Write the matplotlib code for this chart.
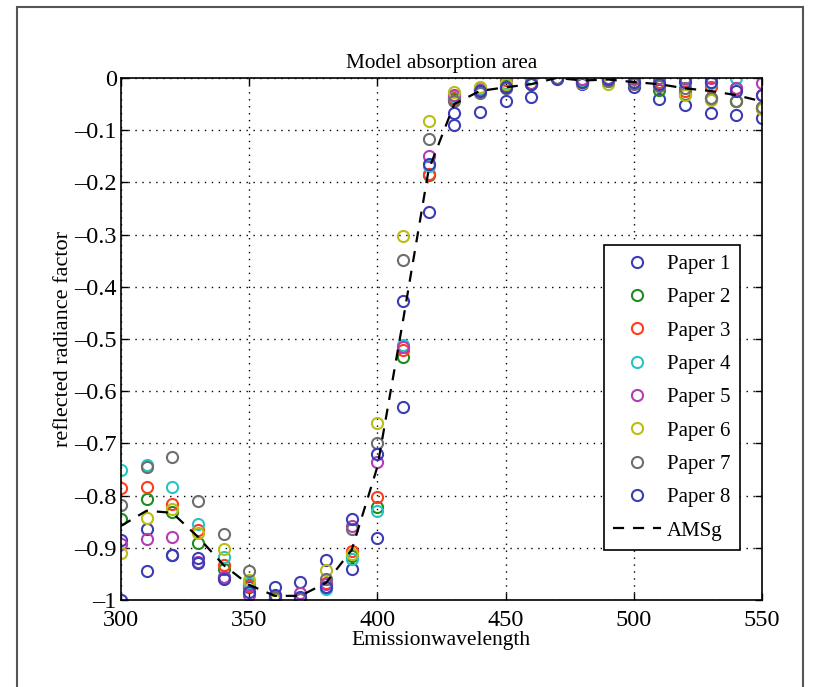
import numpy as np
import matplotlib
matplotlib.use("Agg")
from matplotlib import pyplot as plt
from matplotlib.patches import Rectangle

plt.rcParams['font.family'] = ['Liberation Serif', 'DejaVu Serif']
plt.rcParams['axes.unicode_minus'] = False

wavelength = [300, 310, 320, 330, 340, 350, 360, 370, 380, 390, 400, 410, 420,
              430, 440, 450, 460, 470, 480, 490, 500, 510, 520, 530, 540, 550]

paper1 = [-0.885, -0.864, -0.914, -0.920, -0.955, -0.976, -0.975, -0.965, -0.923, -0.941, -0.882, -0.630, -0.256,
          -0.091, -0.066, -0.045, -0.036, 0.000, -0.011, 0.000, -0.017, -0.041, -0.052, -0.068, -0.071, -0.077]
paper2 = [-0.845, -0.807, -0.831, -0.890, -0.940, -0.971, -0.998, -0.998, -0.975, -0.916, -0.821, -0.534, -0.186,
          -0.040, -0.020, -0.013, -0.012, 0.000, -0.008, -0.005, -0.010, -0.023, -0.030, -0.039, -0.045, -0.058]
paper3 = [-0.786, -0.784, -0.816, -0.866, -0.933, -0.974, -0.995, -0.997, -0.968, -0.907, -0.803, -0.521, -0.184,
          -0.038, -0.022, -0.004, -0.010, 0.000, -0.006, -0.004, -0.002, -0.008, -0.026, -0.017, -0.020, -0.033]
paper4 = [-0.751, -0.742, -0.783, -0.854, -0.917, -0.967, -0.993, -0.996, -0.978, -0.921, -0.829, -0.511, -0.168,
          -0.034, -0.022, -0.010, -0.001, 0.000, -0.005, -0.004, -0.008, -0.012, -0.002, -0.010, -0.001, -0.058]
paper5 = [-0.893, -0.884, -0.879, -0.927, -0.955, -0.990, -0.996, -0.987, -0.970, -0.858, -0.735, -0.515, -0.149,
          -0.032, -0.024, -0.020, -0.010, 0.000, -0.003, 0.000, 0.000, 0.000, 0.000, 0.000, -0.020, -0.010]
paper6 = [-0.909, -0.842, -0.826, -0.871, -0.902, -0.962, -1.000, -0.998, -0.943, -0.912, -0.660, -0.302, -0.082,
          -0.027, -0.017, -0.012, -0.012, 0.000, -0.010, -0.012, -0.008, -0.015, -0.032, -0.042, -0.045, -0.060]
paper7 = [-0.818, -0.746, -0.727, -0.810, -0.874, -0.944, -0.995, -0.998, -0.960, -0.864, -0.699, -0.349, -0.117,
          -0.045, -0.028, -0.019, -0.011, 0.000, -0.008, -0.006, -0.012, -0.015, -0.020, -0.039, -0.045, -0.055]
paper8 = [-0.999, -0.944, -0.914, -0.930, -0.960, -0.985, -0.990, -0.994, -0.975, -0.845, -0.720, -0.428, -0.165,
          -0.068, -0.025, -0.018, -0.012, -0.002, -0.007, -0.003, -0.007, -0.012, -0.007, -0.007, -0.025, -0.033]
amsg = [-0.858, -0.829, -0.833, -0.879, -0.933, -0.971, -0.992, -0.992, -0.967, -0.904, -0.745, -0.465, -0.176,
        -0.050, -0.025, -0.018, -0.012, 0.000, -0.005, -0.003, -0.008, -0.012, -0.020, -0.025, -0.033, -0.045]

papers = [paper1, paper2, paper3, paper4, paper5, paper6, paper7, paper8]
names = ['Paper 1', 'Paper 2', 'Paper 3', 'Paper 4', 'Paper 5', 'Paper 6', 'Paper 7', 'Paper 8']
colors = ['#3c3cb4', '#1e8c1e', '#ff3c1e', '#28c3c3', '#b43cb4', '#b9be14', '#6e6e6e', '#3c3cb4']
yticks = [-1, -0.9, -0.8, -0.7, -0.6, -0.5, -0.4, -0.3, -0.2, -0.1, 0]
ytick_labels = ['\u20131', '\u20130.9', '\u20130.8', '\u20130.7', '\u20130.6', '\u20130.5',
                '\u20130.4', '\u20130.3', '\u20130.2', '\u20130.1', '0']

fig = plt.figure(figsize=(8.13, 6.87), dpi=100)
ax = fig.add_axes([0.1488, 0.1266, 0.7884, 0.7600])

for vals, name, c in zip(papers, names, colors):
    ax.plot(wavelength, vals, 'o', mfc='none', mec=c, ms=8, mew=1.5, label=name)
ax.plot(wavelength, amsg, '--', color='black', lw=1.6, dashes=(5, 4), label='AMSg')

ax.set_xlim(300, 550)
ax.set_ylim(-1, 0)
ax.set_xticks([300, 350, 400, 450, 500, 550])
ax.set_yticks(yticks)
ax.set_yticklabels(ytick_labels)
ax.tick_params(direction='in', top=True, right=True, labelsize=17.5, length=5, width=1, pad=3)
ax.tick_params(axis='x', pad=7)
ax.grid(True, color='black', linestyle=(0, (1, 4)), linewidth=1)
for s in ax.spines.values():
    s.set_linewidth(1.2)

ax.set_title('Model absorption area', fontsize=15.3, pad=7)
ax.set_xlabel('Emissionwavelength', fontsize=15.5, labelpad=0)
ax.set_ylabel('reflected radiance factor', fontsize=16, labelpad=1)

leg = ax.legend(loc='lower right', bbox_to_anchor=(0.9657, 0.0958), borderaxespad=0,
                fontsize=15, fancybox=False, edgecolor='black', framealpha=1,
                borderpad=0.45, labelspacing=0.66, handlelength=2.3, handletextpad=0.3)
leg.get_frame().set_linewidth(1.2)

fig.patches.append(Rectangle((17 / 813, -0.1), (803 - 17) / 813, 1.1 - 7 / 687,
                             transform=fig.transFigure, fill=False,
                             edgecolor='#555555', linewidth=1.5))

fig.savefig('out.png', dpi=100)
